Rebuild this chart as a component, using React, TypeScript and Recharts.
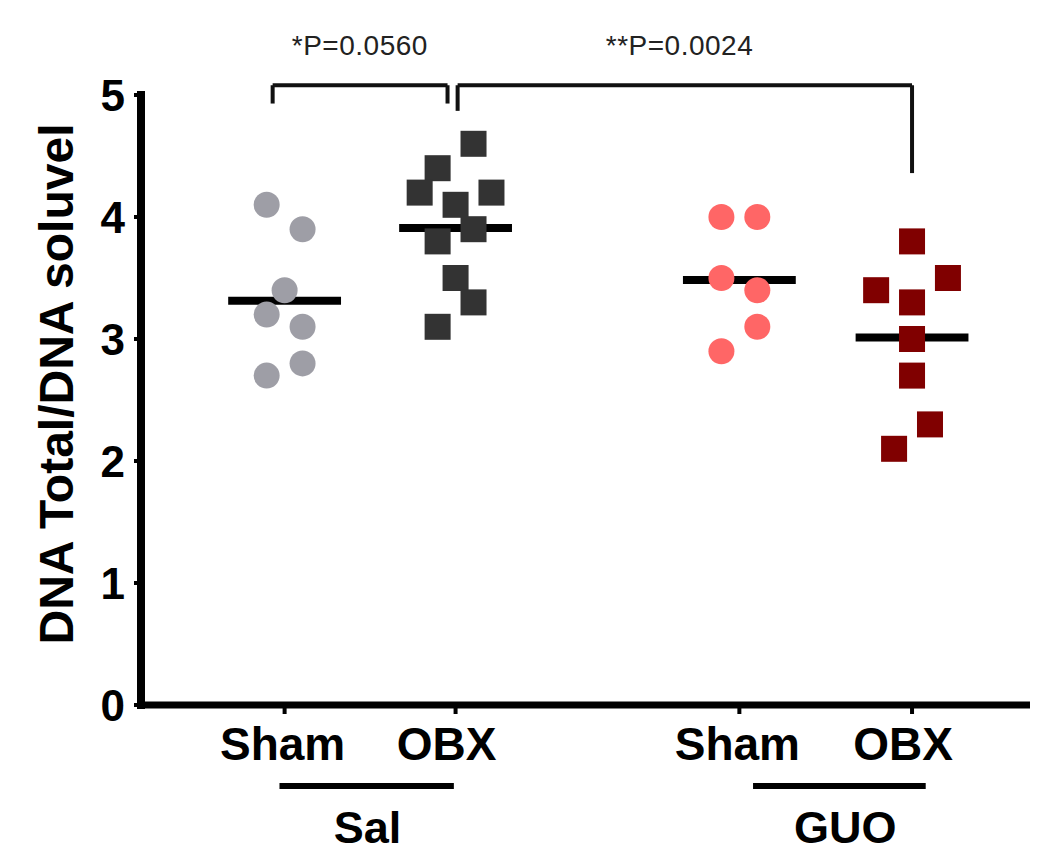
import {
  ScatterChart,
  Scatter,
  XAxis,
  YAxis,
  ReferenceLine,
  ReferenceDot,
  Label,
} from "recharts";

const FONT = "'Liberation Sans', Arial, Helvetica, sans-serif";

// group positions on the x scale and their tick labels
const groupPos = [1, 2, 3.66, 4.67];
const xLabels = ["Sham", "OBX", "Sham", "OBX"];
const yTicks = [0, 1, 2, 3, 4, 5];

// values
const shamSal = [4.1, 3.9, 3.4, 3.2, 3.1, 2.8, 2.7];
const obxSal = [4.6, 4.4, 4.2, 4.2, 4.1, 3.9, 3.8, 3.5, 3.3, 3.1];
const shamGuo = [4.0, 4.0, 3.5, 3.4, 3.1, 2.9];
const obxGuo = [3.8, 3.5, 3.4, 3.3, 3.0, 2.7, 2.3, 2.1];

// scatter column of each point (jitter)
const shamSalCols = [-1, 1, 0, -1, 1, 1, -1];
const obxSalCols = [1, -1, -2, 2, 0, 1, -1, 0, 1, -1];
const shamGuoCols = [-1, 1, -1, 1, 1, -1];
const obxGuoCols = [0, 2, -2, 0, 0, 0, 1, -1];

const pValues = ["*P=0.0560", "**P=0.0024"];
const groupNames = ["Sal", "GUO"];

const X_MIN = 0.16;
const X_MAX = 5.36;
const JITTER = 0.105;
const HALF_MEAN = 0.33;

const toPoints = (values: number[], cols: number[], pos: number) =>
  values.map((v, i) => ({ x: pos + cols[i] * JITTER, y: v }));

const mean = (values: number[]) =>
  values.reduce((s, v) => s + v, 0) / values.length;

const circleShape = (fill: string) => (props: any) =>
  <circle cx={props.cx} cy={props.cy} r={13} fill={fill} />;

const squareShape = (fill: string) => (props: any) =>
  <rect x={props.cx - 13} y={props.cy - 13} width={26} height={26} fill={fill} />;

const XTick = (props: any) => {
  const { x, y, index } = props;
  const label = xLabels[index];
  const dx = label === "OBX" ? -9 : -2;
  return (
    <text
      x={x + dx}
      y={y}
      dy={35}
      textAnchor="middle"
      fontSize={46}
      fontWeight="bold"
      fontFamily={FONT}
      fill="#000"
    >
      {label}
    </text>
  );
};

const textShape = (txt: string, size: number, bold: boolean, color: string, spacing = 0) => (props: any) =>
  (
    <text
      x={props.cx}
      y={props.cy}
      textAnchor="middle"
      fontSize={size}
      fontWeight={bold ? "bold" : "normal"}
      fontFamily={FONT}
      letterSpacing={spacing}
      fill={color}
    >
      {txt}
    </text>
  );

const groups = [
  { values: shamSal, cols: shamSalCols, pos: groupPos[0], shape: circleShape("#9e9ea6") },
  { values: obxSal, cols: obxSalCols, pos: groupPos[1], shape: squareShape("#333333") },
  { values: shamGuo, cols: shamGuoCols, pos: groupPos[2], shape: circleShape("#ff6666") },
  { values: obxGuo, cols: obxGuoCols, pos: groupPos[3], shape: squareShape("#800000") },
];

const bracket = (x1: number, x2: number, yTop: number, y1: number, y2: number, key: string) => [
  <ReferenceLine key={key + "a"} segment={[{ x: x1, y: y1 }, { x: x1, y: yTop }]} stroke="#111" strokeWidth={4} ifOverflow="visible" />,
  <ReferenceLine key={key + "b"} segment={[{ x: x1, y: yTop }, { x: x2, y: yTop }]} stroke="#111" strokeWidth={4} ifOverflow="visible" />,
  <ReferenceLine key={key + "c"} segment={[{ x: x2, y: yTop }, { x: x2, y: y2 }]} stroke="#111" strokeWidth={4} ifOverflow="visible" />,
];

export default function App() {
  return (
    <div style={{ position: "absolute", left: 0, top: 0 }}>
      <ScatterChart
        width={1037}
        height={853}
        margin={{ top: 95, right: 7, bottom: 0, left: 0 }}
      >
        <XAxis
          type="number"
          dataKey="x"
          domain={[X_MIN, X_MAX]}
          ticks={groupPos}
          interval={0}
          height={148}
          tickSize={9}
          tickMargin={11}
          axisLine={{ stroke: "#000", strokeWidth: 7 }}
          tickLine={{ stroke: "#000", strokeWidth: 4 }}
          tick={<XTick />}
          allowDataOverflow
        />
        <YAxis
          type="number"
          dataKey="y"
          domain={[0, 5]}
          ticks={yTicks}
          interval={0}
          width={141}
          tickSize={7}
          tickMargin={9}
          axisLine={{ stroke: "#000", strokeWidth: 8, strokeLinecap: "square" }}
          tickLine={{ stroke: "#000", strokeWidth: 4 }}
          tick={{ fontSize: 44, fontWeight: "bold", fill: "#000", fontFamily: FONT }}
          allowDataOverflow
        >
          <Label
            content={(p: any) => {
              const vb = p.viewBox;
              const cx = 56;
              const cy = vb.y + vb.height / 2 - 16;
              return (
                <text
                  x={cx}
                  y={cy}
                  transform={`rotate(-90 ${cx} ${cy})`}
                  textAnchor="middle"
                  dominantBaseline="central"
                  fontSize={48}
                  fontWeight="bold"
                  fontFamily={FONT}
                  fill="#000"
                >
                  DNA Total/DNA soluvel
                </text>
              );
            }}
          />
        </YAxis>

        {groups.map((g, i) => (
          <Scatter
            key={"s" + i}
            data={toPoints(g.values, g.cols, g.pos)}
            shape={g.shape}
            isAnimationActive={false}
          />
        ))}

        {groups.map((g, i) => (
          <ReferenceLine
            key={"m" + i}
            segment={[
              { x: g.pos - HALF_MEAN, y: mean(g.values) },
              { x: g.pos + HALF_MEAN, y: mean(g.values) },
            ]}
            stroke="#000"
            strokeWidth={8}
            ifOverflow="visible"
          />
        ))}

        {bracket(groupPos[0] - 0.07, groupPos[1] - 0.047, 5.08, 4.93, 4.93, "b1")}
        {bracket(groupPos[1] + 0.012, groupPos[3], 5.08, 4.87, 4.36, "b2")}

        <ReferenceDot x={1.44} y={5.33} ifOverflow="visible" shape={textShape(pValues[0], 28, false, "#222", 0.5)} />
        <ReferenceDot x={3.31} y={5.33} ifOverflow="visible" shape={textShape(pValues[1], 28, false, "#222", 0.5)} />

        <ReferenceLine segment={[{ x: 0.97, y: -0.664 }, { x: 1.99, y: -0.664 }]} stroke="#000" strokeWidth={6} ifOverflow="visible" />
        <ReferenceLine segment={[{ x: 3.74, y: -0.664 }, { x: 4.75, y: -0.664 }]} stroke="#000" strokeWidth={6} ifOverflow="visible" />

        <ReferenceDot x={1.485} y={-1.13} ifOverflow="visible" shape={textShape(groupNames[0], 45, true, "#000")} />
        <ReferenceDot x={4.28} y={-1.13} ifOverflow="visible" shape={textShape(groupNames[1], 45, true, "#000")} />
      </ScatterChart>
    </div>
  );
}
